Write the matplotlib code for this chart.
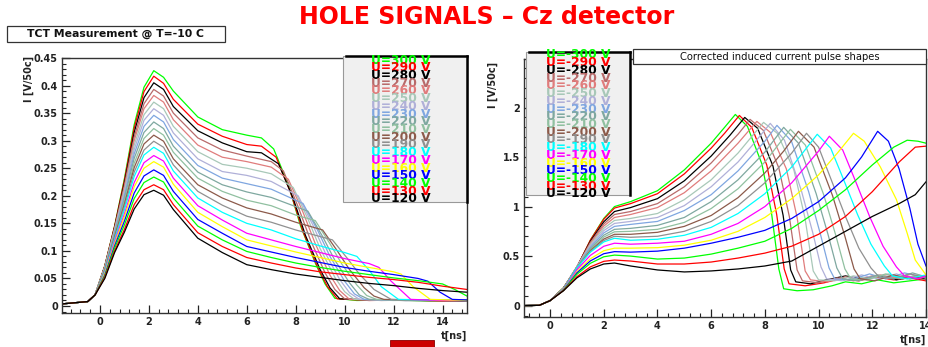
import matplotlib
matplotlib.use("Agg")
import matplotlib.pyplot as plt
from matplotlib.patches import Rectangle
from matplotlib.lines import Line2D
from matplotlib.ticker import MultipleLocator, FuncFormatter

plt.rcParams['font.family'] = 'DejaVu Sans'
plt.rcParams['font.weight'] = 'bold'

# bias voltages, top of the legend first
volts = [300, 290, 280, 270, 260, 250, 240, 230, 220, 210,
         200, 190, 180, 170, 160, 150, 140, 130, 120]
colors = ['#00ff00', '#ff0000', '#000000', '#b86a6a', '#e07c7c', '#a8c8b8',
          '#b0b0d8', '#7fa6e0', '#7fa8a0', '#90c0a0', '#8c5a4a', '#909090',
          '#00ffff', '#ff00ff', '#ffff00', '#0000ff', '#00ff00', '#ff0000', '#000000']

# ---- measured TCT pulses (left) ----
left_t_head = [-1.5, -1.0, -0.5, -0.2, 0.2, 0.6, 1.0, 1.4, 1.8, 2.2, 2.6, 3.0, 4.0, 5.0, 6.0]
left_base = [0.004, 0.006, 0.008, 0.02]
left_head = [
    [0.073, 0.145, 0.231, 0.329, 0.397, 0.427, 0.415, 0.390, 0.343, 0.320, 0.310],
    [0.073, 0.145, 0.228, 0.323, 0.389, 0.417, 0.404, 0.375, 0.330, 0.308, 0.293],
    [0.072, 0.143, 0.223, 0.315, 0.378, 0.405, 0.393, 0.362, 0.318, 0.296, 0.280],
    [0.072, 0.141, 0.219, 0.307, 0.367, 0.393, 0.381, 0.350, 0.305, 0.283, 0.272],
    [0.071, 0.140, 0.215, 0.300, 0.358, 0.382, 0.370, 0.338, 0.292, 0.270, 0.262],
    [0.070, 0.138, 0.210, 0.292, 0.347, 0.370, 0.358, 0.326, 0.280, 0.257, 0.250],
    [0.069, 0.136, 0.205, 0.284, 0.337, 0.358, 0.346, 0.314, 0.267, 0.244, 0.237],
    [0.068, 0.134, 0.200, 0.276, 0.326, 0.346, 0.334, 0.302, 0.255, 0.232, 0.222],
    [0.067, 0.131, 0.195, 0.268, 0.315, 0.334, 0.322, 0.290, 0.243, 0.220, 0.207],
    [0.066, 0.129, 0.190, 0.259, 0.304, 0.322, 0.310, 0.279, 0.232, 0.208, 0.192],
    [0.065, 0.126, 0.185, 0.251, 0.294, 0.310, 0.299, 0.267, 0.220, 0.196, 0.178],
    [0.064, 0.123, 0.180, 0.243, 0.283, 0.299, 0.288, 0.256, 0.208, 0.183, 0.163],
    [0.062, 0.121, 0.175, 0.235, 0.274, 0.288, 0.277, 0.245, 0.196, 0.170, 0.150],
    [0.060, 0.117, 0.167, 0.224, 0.260, 0.273, 0.263, 0.232, 0.182, 0.156, 0.132],
    [0.059, 0.113, 0.162, 0.216, 0.250, 0.262, 0.252, 0.221, 0.170, 0.144, 0.120],
    [0.056, 0.109, 0.154, 0.205, 0.236, 0.247, 0.237, 0.208, 0.157, 0.132, 0.108],
    [0.054, 0.105, 0.147, 0.195, 0.224, 0.234, 0.225, 0.196, 0.145, 0.120, 0.099],
    [0.052, 0.100, 0.139, 0.184, 0.211, 0.220, 0.211, 0.184, 0.133, 0.108, 0.088],
    [0.050, 0.097, 0.134, 0.176, 0.202, 0.210, 0.201, 0.175, 0.123, 0.097, 0.075],
]
left_tail_t = [
    [6.6, 7.1, 7.7, 8.2, 8.8, 9.2, 9.6, 10.5, 12.0, 13.5, 15.0],
    [6.6, 7.2, 7.8, 8.3, 8.9, 9.3, 9.7, 11.0, 12.5, 14.0, 15.0],
    [6.6, 7.3, 7.9, 8.4, 9.0, 9.4, 9.8, 11.0, 12.5, 14.0, 15.0],
    [7.0, 7.5, 8.1, 8.6, 9.2, 9.6, 10.0, 11.5, 13.0, 15.0],
    [7.0, 7.7, 8.3, 8.8, 9.4, 9.8, 10.2, 11.5, 13.0, 15.0],
    [7.0, 7.9, 8.5, 9.0, 9.6, 10.0, 10.4, 12.0, 13.5, 15.0],
    [7.0, 8.1, 8.7, 9.2, 9.8, 10.2, 10.6, 12.0, 13.5, 15.0],
    [7.0, 8.3, 8.9, 9.4, 10.0, 10.4, 10.8, 12.5, 14.0, 15.0],
    [7.0, 8.5, 9.1, 9.6, 10.2, 10.6, 11.0, 12.5, 14.0, 15.0],
    [7.0, 8.0, 8.8, 9.4, 9.9, 10.5, 10.9, 11.3, 13.0, 15.0],
    [7.0, 8.0, 9.1, 9.7, 10.2, 10.8, 11.2, 11.6, 13.0, 15.0],
    [7.0, 8.0, 9.0, 9.5, 10.1, 10.6, 11.2, 11.9, 13.5, 15.0],
    [7.0, 8.0, 9.0, 10.0, 10.5, 11.0, 11.5, 12.2, 13.5, 15.0],
    [7.0, 8.0, 9.0, 10.0, 11.0, 11.4, 11.9, 12.7, 14.0, 15.0],
    [7.0, 8.0, 9.0, 10.0, 11.0, 12.0, 12.3, 12.8, 13.5, 15.0],
    [7.0, 8.0, 9.0, 10.0, 11.0, 12.0, 13.0, 13.4, 13.9, 14.4, 15.0],
    [7.0, 8.0, 9.0, 10.0, 11.0, 12.0, 13.0, 14.0, 14.5, 15.0],
    [7.0, 8.0, 9.0, 10.0, 11.0, 12.0, 13.0, 14.0, 15.0],
    [7.0, 8.0, 9.0, 10.0, 11.0, 12.0, 13.0, 14.0, 15.0],
]
left_tail_i = [
    [0.305, 0.285, 0.220, 0.145, 0.078, 0.040, 0.014, 0.010, 0.011, 0.009, 0.010],
    [0.290, 0.270, 0.205, 0.135, 0.070, 0.035, 0.013, 0.010, 0.011, 0.009, 0.010],
    [0.278, 0.258, 0.195, 0.128, 0.066, 0.033, 0.013, 0.011, 0.010, 0.010, 0.009],
    [0.262, 0.245, 0.180, 0.120, 0.060, 0.030, 0.013, 0.010, 0.011, 0.010],
    [0.252, 0.230, 0.170, 0.113, 0.056, 0.028, 0.012, 0.011, 0.010, 0.010],
    [0.240, 0.215, 0.158, 0.104, 0.052, 0.026, 0.012, 0.010, 0.011, 0.010],
    [0.226, 0.200, 0.147, 0.097, 0.048, 0.024, 0.012, 0.011, 0.010, 0.010],
    [0.212, 0.186, 0.137, 0.090, 0.045, 0.022, 0.012, 0.010, 0.011, 0.010],
    [0.197, 0.172, 0.126, 0.083, 0.042, 0.020, 0.012, 0.011, 0.010, 0.010],
    [0.182, 0.165, 0.155, 0.113, 0.075, 0.038, 0.019, 0.012, 0.010, 0.011],
    [0.167, 0.152, 0.138, 0.100, 0.066, 0.033, 0.018, 0.012, 0.011, 0.010],
    [0.152, 0.138, 0.126, 0.120, 0.087, 0.058, 0.030, 0.012, 0.010, 0.011],
    [0.138, 0.122, 0.109, 0.097, 0.090, 0.065, 0.035, 0.012, 0.011, 0.010],
    [0.120, 0.108, 0.097, 0.086, 0.077, 0.070, 0.045, 0.012, 0.010, 0.010],
    [0.109, 0.098, 0.088, 0.078, 0.070, 0.062, 0.058, 0.035, 0.012, 0.010],
    [0.098, 0.088, 0.079, 0.070, 0.063, 0.057, 0.050, 0.045, 0.025, 0.012, 0.011],
    [0.088, 0.078, 0.070, 0.063, 0.057, 0.051, 0.046, 0.040, 0.030, 0.018],
    [0.078, 0.069, 0.062, 0.057, 0.052, 0.048, 0.043, 0.036, 0.030],
    [0.066, 0.058, 0.052, 0.046, 0.041, 0.037, 0.032, 0.028, 0.025],
]

# ---- trapping corrected pulses (right) ----
right_t_head = [-1.0, -0.4, 0.0, 0.5, 1.0, 1.5, 2.0, 2.4, 3.0]
right_base = [0.0, 0.003, 0.05]
right_head = [
    [0.180, 0.380, 0.660, 0.880, 1.000, 1.050],
    [0.178, 0.389, 0.661, 0.872, 0.985, 1.030],
    [0.177, 0.390, 0.648, 0.846, 0.950, 0.990],
    [0.175, 0.391, 0.638, 0.824, 0.920, 0.950],
    [0.173, 0.392, 0.627, 0.803, 0.890, 0.920],
    [0.172, 0.391, 0.616, 0.780, 0.860, 0.880],
    [0.170, 0.390, 0.603, 0.757, 0.830, 0.850],
    [0.168, 0.388, 0.590, 0.734, 0.800, 0.820],
    [0.167, 0.385, 0.577, 0.711, 0.770, 0.780],
    [0.165, 0.384, 0.566, 0.692, 0.745, 0.750],
    [0.163, 0.382, 0.555, 0.672, 0.720, 0.720],
    [0.162, 0.382, 0.547, 0.657, 0.700, 0.690],
    [0.160, 0.381, 0.539, 0.643, 0.680, 0.660],
    [0.158, 0.362, 0.507, 0.599, 0.630, 0.620],
    [0.157, 0.342, 0.473, 0.554, 0.580, 0.580],
    [0.155, 0.330, 0.451, 0.524, 0.545, 0.540],
    [0.153, 0.316, 0.427, 0.493, 0.510, 0.500],
    [0.152, 0.292, 0.391, 0.447, 0.460, 0.450],
    [0.150, 0.280, 0.370, 0.420, 0.430, 0.400],
]
right_tail_t = [
    [4, 5, 6, 6.5, 6.9, 7.35, 7.89, 8.25, 8.52, 8.7, 9.2, 9.8, 10.5, 11, 11.6, 12.2, 12.8, 13.4, 14],
    [4, 5, 6, 6.5, 7.05, 7.51, 8.07, 8.44, 8.72, 8.9, 9.5, 10.2, 10.8, 11.5, 12.1, 12.8, 13.4, 14],
    [4, 5, 6, 6.7, 7.25, 7.73, 8.3, 8.68, 8.96, 9.15, 9.7, 10.3, 11, 11.6, 12.3, 12.9, 13.5, 14],
    [4, 5, 6, 7, 7.45, 7.94, 8.52, 8.91, 9.2, 9.4, 10, 10.7, 11.3, 12, 12.7, 13.3, 14],
    [4, 5, 6, 7, 7.7, 8.2, 8.8, 9.2, 9.5, 9.7, 10.3, 11, 11.6, 12.3, 13, 13.6, 14],
    [4, 5, 6, 7, 7.95, 8.46, 9.08, 9.49, 9.8, 10, 10.6, 11.3, 11.9, 12.6, 13.3, 14],
    [4, 5, 6, 7, 7.6, 8.2, 8.73, 9.36, 9.78, 10.09, 10.3, 10.9, 11.6, 12.2, 12.9, 13.5, 14],
    [4, 5, 6, 7, 8, 8.45, 8.99, 9.63, 10.06, 10.39, 10.6, 11.2, 11.9, 12.5, 13.2, 14],
    [4, 5, 6, 7, 8, 8.7, 9.25, 9.91, 10.35, 10.68, 10.9, 11.5, 12.2, 12.8, 13.5, 14],
    [4, 5, 6, 7, 8, 8.95, 9.51, 10.19, 10.64, 10.98, 11.2, 11.8, 12.5, 13.1, 13.7, 14],
    [4, 5, 6, 7, 8, 8.7, 9.25, 9.83, 10.52, 10.98, 11.32, 11.55, 12.1, 12.8, 13.4, 14],
    [4, 5, 6, 7, 8, 9, 9.55, 10.0, 10.5, 11.0, 11.5, 11.95, 12.25, 12.8, 13.4, 14],
    [4, 5, 6, 7, 8, 9, 9.95, 10.45, 10.95, 11.45, 11.95, 12.45, 12.75, 13.3, 14],
    [4, 5, 6, 7, 8, 9, 10, 10.4, 10.9, 11.4, 11.9, 12.4, 12.9, 13.2, 13.7, 14],
    [4, 5, 6, 7, 8, 9, 10, 10.7, 11.3, 11.7, 12.3, 12.9, 13.3, 13.6, 14],
    [4, 5, 6, 7, 8, 9, 10, 11, 11.6, 12.2, 12.6, 13, 13.4, 13.7, 14],
    [4, 5, 6, 7, 8, 9, 10, 11, 12, 12.8, 13.3, 13.7, 14],
    [4, 5, 6, 7, 8, 9, 10, 11, 12, 12.5, 13, 13.6, 14],
    [4, 5, 6, 7, 8, 9, 10, 11, 12, 13, 13.6, 14],
]
right_tail_i = [
    [1.16, 1.37, 1.64, 1.80, 1.93, 1.81, 1.43, 0.93, 0.37, 0.17, 0.15, 0.16, 0.20, 0.24, 0.22, 0.26, 0.23, 0.25, 0.27],
    [1.13, 1.33, 1.59, 1.74, 1.92, 1.80, 1.42, 0.92, 0.37, 0.22, 0.20, 0.23, 0.27, 0.25, 0.29, 0.26, 0.28, 0.25],
    [1.08, 1.26, 1.51, 1.72, 1.90, 1.79, 1.41, 0.91, 0.36, 0.24, 0.22, 0.26, 0.30, 0.27, 0.30, 0.26, 0.29, 0.27],
    [1.03, 1.20, 1.44, 1.73, 1.88, 1.77, 1.39, 0.90, 0.36, 0.25, 0.23, 0.28, 0.25, 0.30, 0.27, 0.30, 0.26],
    [0.99, 1.14, 1.36, 1.64, 1.86, 1.75, 1.38, 0.89, 0.35, 0.26, 0.24, 0.29, 0.26, 0.31, 0.27, 0.30, 0.28],
    [0.93, 1.07, 1.27, 1.54, 1.85, 1.74, 1.37, 0.89, 0.35, 0.26, 0.25, 0.30, 0.27, 0.32, 0.27, 0.29],
    [0.89, 1.01, 1.20, 1.45, 1.64, 1.84, 1.67, 1.16, 0.74, 0.39, 0.27, 0.25, 0.31, 0.27, 0.32, 0.27, 0.30],
    [0.85, 0.96, 1.12, 1.36, 1.66, 1.82, 1.66, 1.15, 0.73, 0.38, 0.27, 0.26, 0.32, 0.27, 0.33, 0.28],
    [0.81, 0.89, 1.05, 1.27, 1.55, 1.80, 1.64, 1.13, 0.72, 0.38, 0.27, 0.25, 0.31, 0.27, 0.33, 0.29],
    [0.77, 0.84, 0.98, 1.18, 1.45, 1.78, 1.62, 1.12, 0.71, 0.37, 0.27, 0.26, 0.32, 0.27, 0.31, 0.28],
    [0.74, 0.80, 0.91, 1.09, 1.34, 1.56, 1.76, 1.60, 1.11, 0.70, 0.37, 0.27, 0.25, 0.31, 0.27, 0.30],
    [0.70, 0.75, 0.85, 1.01, 1.24, 1.54, 1.74, 1.60, 1.25, 0.90, 0.58, 0.38, 0.29, 0.27, 0.32, 0.28],
    [0.67, 0.71, 0.79, 0.93, 1.13, 1.40, 1.73, 1.59, 1.26, 0.92, 0.62, 0.40, 0.30, 0.27, 0.31],
    [0.63, 0.65, 0.72, 0.83, 1.00, 1.24, 1.56, 1.71, 1.57, 1.24, 0.90, 0.60, 0.39, 0.30, 0.27, 0.30],
    [0.585, 0.61, 0.66, 0.75, 0.89, 1.08, 1.32, 1.54, 1.74, 1.66, 1.40, 1.07, 0.73, 0.46, 0.31],
    [0.55, 0.58, 0.63, 0.69, 0.76, 0.88, 1.05, 1.29, 1.50, 1.76, 1.66, 1.38, 0.98, 0.62, 0.40],
    [0.47, 0.48, 0.52, 0.58, 0.65, 0.78, 0.96, 1.17, 1.42, 1.60, 1.67, 1.66, 1.64],
    [0.42, 0.42, 0.44, 0.48, 0.53, 0.60, 0.72, 0.90, 1.15, 1.30, 1.45, 1.60, 1.61],
    [0.36, 0.34, 0.35, 0.37, 0.40, 0.45, 0.60, 0.75, 0.90, 1.03, 1.12, 1.25],
]

W, H = 929, 347  # canvas size in pixels


def fx(px):
    return px / W


def fy(py):
    return 1 - py / H


def style_axes(ax, xlim, ylim, ymajor, yminor):
    ax.set_xlim(*xlim)
    ax.set_ylim(*ylim)
    ax.xaxis.set_major_locator(MultipleLocator(2))
    ax.xaxis.set_minor_locator(MultipleLocator(0.4))
    ax.yaxis.set_major_locator(MultipleLocator(ymajor))
    ax.yaxis.set_minor_locator(MultipleLocator(yminor))
    fmt = FuncFormatter(lambda v, p: f"{v:g}")
    ax.xaxis.set_major_formatter(fmt)
    ax.yaxis.set_major_formatter(fmt)
    ax.tick_params(which='major', direction='in', length=6, width=0.9,
                   labelsize=7, colors='#222222', pad=3)
    ax.tick_params(which='minor', direction='in', length=3, width=0.8, colors='#222222')
    ax.tick_params(top=False, right=False)
    for s in ax.spines.values():
        s.set_linewidth(1.0)
        s.set_color('#333333')


def draw_legend(fig, x0, y0, x1, y1, labels, xc, yfirst, step, size):
    fig.add_artist(Rectangle((fx(x0), fy(y1)), fx(x1 - x0), (y1 - y0) / H,
                             transform=fig.transFigure, facecolor='#f0f0f0',
                             edgecolor='#999999', lw=0.8, zorder=5))
    # dark frame edge on top and right side
    fig.add_artist(Line2D([fx(x0 + 3), fx(x1)], [fy(y0), fy(y0)], transform=fig.transFigure,
                          color='black', lw=1.8, zorder=6))
    fig.add_artist(Line2D([fx(x1), fx(x1)], [fy(y0), fy(y1)], transform=fig.transFigure,
                          color='black', lw=1.8, zorder=6))
    for k, lab in enumerate(labels):
        fig.text(fx(xc), fy(yfirst + k * step), lab, color=colors[k], ha='center',
                 va='center', fontsize=size, fontweight='bold', zorder=7)


def title_box(fig, x0, y0, x1, y1, text, size, weight):
    fig.add_artist(Rectangle((fx(x0), fy(y1)), fx(x1 - x0), (y1 - y0) / H,
                             transform=fig.transFigure, facecolor='white',
                             edgecolor='#333333', lw=0.9, zorder=5))
    fig.text(fx((x0 + x1) / 2), fy((y0 + y1) / 2), text, ha='center', va='center',
             fontsize=size, fontweight=weight, color='#111111', zorder=7)


fig = plt.figure(figsize=(9.29, 3.47), dpi=100)
fig.patch.set_facecolor('white')

ax1 = fig.add_axes([fx(62), fy(313), fx(467 - 62), (313 - 58) / H])
ax2 = fig.add_axes([fx(524), fy(317), fx(926 - 524), (317 - 59) / H])

for k in range(len(volts)):
    t = left_t_head + left_tail_t[k]
    i = left_base + left_head[k] + left_tail_i[k]
    ax1.plot(t, i, color=colors[k], lw=0.9)
    t = right_t_head + right_tail_t[k]
    i = right_base + right_head[k] + right_tail_i[k]
    ax2.plot(t, i, color=colors[k], lw=0.9)

style_axes(ax1, (-1.55, 15.0), (-0.0127, 0.45), 0.05, 0.01)
style_axes(ax2, (-0.97, 14.0), (-0.115, 2.49), 0.5, 0.1)

# axis titles, ROOT style at the ends of the axes
fig.text(fx(467), fy(336), 't[ns]', ha='right', va='center', fontsize=7, color='#222222')
fig.text(fx(926), fy(340), 't[ns]', ha='right', va='center', fontsize=7, color='#222222')
fig.text(fx(29), fy(56), 'I [V/50c]', rotation=90, ha='center', va='top', fontsize=7, color='#222222')
fig.text(fx(493), fy(62), 'I [V/50c]', rotation=90, ha='center', va='top', fontsize=7, color='#222222')

draw_legend(fig, 343, 56, 467, 202, [f"U={v} V" for v in volts], 401, 60, 7.72, 8.8)
draw_legend(fig, 526, 52, 630, 195, [f"U=-{v} V" for v in volts], 578, 55, 7.72, 8.8)

title_box(fig, 7, 26, 225, 42, 'TCT Measurement @ T=-10 C', 7.8, 'bold')
title_box(fig, 633, 49, 926, 64, 'Corrected induced current pulse shapes', 7.2, 'normal')

fig.text(fx(487), fy(17), 'HOLE SIGNALS \u2013 Cz detector', ha='center', va='center',
         fontsize=17, fontweight='bold', color='#ff0000')

fig.add_artist(Rectangle((fx(390), 0), fx(44), 7 / H, transform=fig.transFigure,
                         facecolor='#cc0000', edgecolor='#880000', lw=0.6, zorder=5))

fig.savefig('out.png', dpi=100)
